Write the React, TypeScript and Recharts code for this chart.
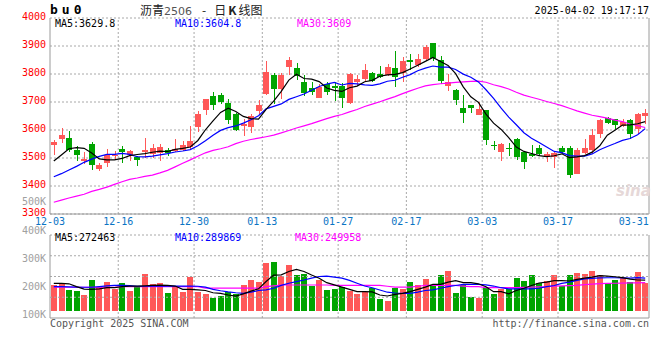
import {
  ComposedChart,
  Bar,
  Line,
  XAxis,
  YAxis,
  CartesianGrid,
  ReferenceLine,
} from "recharts";

// 交易日（12-03 ~ 04-01）
const dates = [
  "12-03", "12-04", "12-05", "12-06", "12-09", "12-10", "12-11", "12-12", "12-13",
  "12-16", "12-17", "12-18", "12-19", "12-20", "12-23", "12-24", "12-25", "12-26", "12-27",
  "12-30", "12-31", "01-02", "01-03", "01-06", "01-07", "01-08", "01-09", "01-10",
  "01-13", "01-14", "01-15", "01-16", "01-17", "01-20", "01-21", "01-22", "01-23", "01-24",
  "01-27", "02-05", "02-06", "02-07", "02-10", "02-11", "02-12", "02-13", "02-14",
  "02-17", "02-18", "02-19", "02-20", "02-21", "02-24", "02-25", "02-26", "02-27", "02-28",
  "03-03", "03-04", "03-05", "03-06", "03-07", "03-10", "03-11", "03-12", "03-13", "03-14",
  "03-17", "03-18", "03-19", "03-20", "03-21", "03-24", "03-25", "03-26", "03-27", "03-28",
  "03-31", "04-01",
];

const opens = [
  3545, 3568, 3571, 3527, 3489, 3549, 3460, 3482, 3506, 3531, 3510, 3502, 3521, 3516, 3519, 3528,
  3524, 3528, 3539, 3609, 3671, 3721, 3724, 3697, 3656, 3615, 3609, 3668, 3727, 3796, 3746, 3824,
  3822, 3772, 3749, 3715, 3766, 3757, 3757, 3697, 3772, 3782, 3804, 3800, 3796, 3822, 3802, 3850,
  3832, 3853, 3909, 3850, 3758, 3742, 3680, 3689, 3653, 3671, 3548, 3521, 3537, 3567, 3520, 3516,
  3534, 3504, 3504, 3534, 3536, 3444, 3518, 3528, 3587, 3643, 3641, 3613, 3637, 3605, 3649,
];
const closes = [
  3557, 3581, 3530, 3510, 3495, 3474, 3474, 3512, 3511, 3521, 3524, 3494, 3528, 3536, 3539, 3519,
  3531, 3546, 3561, 3656, 3710, 3689, 3699, 3635, 3599, 3620, 3649, 3691, 3808, 3746, 3796, 3850,
  3794, 3733, 3735, 3752, 3736, 3751, 3715, 3801, 3781, 3814, 3776, 3788, 3826, 3788, 3846, 3842,
  3853, 3897, 3856, 3775, 3772, 3706, 3661, 3679, 3675, 3563, 3544, 3549, 3534, 3504, 3486, 3507,
  3513, 3516, 3518, 3521, 3438, 3528, 3537, 3581, 3635, 3625, 3617, 3629, 3585, 3656, 3661,
];
const highs = [
  3566, 3607, 3595, 3542, 3521, 3557, 3482, 3531, 3524, 3542, 3528, 3506, 3571, 3550, 3549, 3537,
  3567, 3561, 3613, 3668, 3710, 3736, 3733, 3709, 3659, 3641, 3656, 3706, 3846, 3802, 3802, 3862,
  3840, 3796, 3771, 3766, 3772, 3772, 3768, 3804, 3796, 3834, 3808, 3828, 3834, 3882, 3862, 3872,
  3871, 3903, 3912, 3864, 3800, 3748, 3724, 3689, 3700, 3673, 3560, 3554, 3554, 3572, 3521, 3546,
  3546, 3521, 3523, 3542, 3542, 3534, 3569, 3605, 3638, 3647, 3641, 3638, 3641, 3659, 3675,
];
const lows = [
  3512, 3554, 3521, 3489, 3477, 3456, 3453, 3468, 3494, 3482, 3489, 3471, 3500, 3500, 3490, 3506,
  3521, 3525, 3533, 3593, 3653, 3671, 3692, 3623, 3597, 3578, 3589, 3656, 3724, 3692, 3710, 3796,
  3778, 3723, 3724, 3713, 3724, 3704, 3680, 3692, 3760, 3772, 3770, 3784, 3792, 3752, 3770, 3815,
  3824, 3847, 3847, 3766, 3739, 3689, 3625, 3661, 3653, 3545, 3528, 3489, 3506, 3494, 3462, 3504,
  3506, 3486, 3465, 3516, 3430, 3442, 3513, 3513, 3573, 3623, 3605, 3611, 3569, 3587, 3620,
];
const volumes = [
  229000, 238000, 185000, 176000, 140000, 274000, 214000, 256000, 194000, 247000,
  176000, 217000, 327000, 235000, 247000, 158000, 214000, 167000, 300000, 167000,
  149000, 113000, 131000, 167000, 149000, 229000, 274000, 256000, 425000, 434000,
  310000, 408000, 318000, 327000, 220000, 274000, 185000, 194000, 214000, 176000,
  149000, 170000, 200000, 104000, 87000, 205000, 194000, 256000, 229000, 283000,
  229000, 318000, 354000, 158000, 229000, 125000, 113000, 214000, 152000, 194000,
  194000, 292000, 265000, 318000, 250000, 265000, 318000, 220000, 318000, 336000,
  327000, 354000, 318000, 247000, 274000, 289000, 253000, 345000, 244000,
];

// 均线
const ma5 = [
  3489, 3511, 3533, 3537, 3534.6, 3518, 3496.6, 3493, 3493.2, 3498.4, 3508.4, 3512.4, 3515.6, 3520.6,
  3524.2, 3523.2, 3530.6, 3534.2, 3539.2, 3562.6, 3600.8, 3632.4, 3663, 3677.8, 3666.4, 3648.4,
  3640.4, 3638.8, 3673.4, 3702.8, 3738, 3778.2, 3798.8, 3783.8, 3781.6, 3772.8, 3750, 3741.4,
  3737.8, 3751, 3756.8, 3772.4, 3777.4, 3792, 3797, 3798.4, 3804.8, 3818, 3831, 3845.2, 3858.8,
  3844.6, 3830.6, 3801.2, 3754, 3718.6, 3698.6, 3656.8, 3624.4, 3602, 3573, 3538.8, 3523.4, 3516,
  3508.8, 3505.2, 3508, 3515, 3501.2, 3504.2, 3508.4, 3521, 3543.8, 3581.2, 3599, 3617.4, 3618.2,
  3622.4, 3629.8,
];
const ma10 = [
  3433, 3444, 3457, 3470, 3484.5, 3496, 3506, 3513, 3513, 3516.5, 3513.2, 3504.5, 3504.3, 3506.9,
  3511.3, 3515.8, 3521.5, 3524.9, 3529.9, 3543.4, 3562, 3581.5, 3598.6, 3608.5, 3614.5, 3624.6,
  3636.4, 3650.9, 3675.6, 3684.6, 3693.2, 3709.3, 3718.8, 3728.6, 3742.2, 3755.4, 3764.1, 3770.1,
  3760.8, 3766.3, 3764.8, 3761.2, 3759.4, 3764.9, 3774, 3777.6, 3788.6, 3797.7, 3811.5, 3821.1,
  3828.6, 3824.7, 3824.3, 3816.1, 3799.6, 3788.7, 3771.6, 3743.7, 3712.8, 3678, 3645.8, 3618.7,
  3590.1, 3570.2, 3555.4, 3539.1, 3523.4, 3519.2, 3508.6, 3506.5, 3506.8, 3514.5, 3529.4, 3541.2,
  3551.6, 3562.9, 3569.6, 3583.1, 3604.8,
];
const ma30 = [
  3342, 3349.5, 3357, 3364, 3370.6, 3380.7, 3388, 3396, 3405.7, 3415, 3423.6, 3428.6, 3434.4, 3438.7,
  3447, 3456, 3468.4, 3481, 3493.4, 3506, 3518.5, 3527.4, 3533, 3540.3, 3551.4, 3559.7, 3566, 3571,
  3576, 3581.5, 3589.5, 3598.4, 3607.2, 3614.7, 3622.7, 3631.9, 3640.7, 3648.6, 3655.4, 3664.8,
  3673.3, 3684, 3692.3, 3700.7, 3710.2, 3719.2, 3729.7, 3739.6, 3749.3, 3757.3, 3762.2, 3765.1,
  3767.5, 3769.9, 3771.9, 3773.9, 3774.8, 3770.5, 3761.7, 3755.1, 3746.4, 3734.9, 3724.6, 3717.1,
  3709.7, 3701.8, 3694.5, 3686.9, 3677.6, 3668.5, 3660.4, 3652.6, 3647.9, 3642.5, 3635.5, 3630.2,
  3621.5, 3615.3, 3609,
];
const volMa5 = [
  244000, 244000, 240000, 215000, 192000, 191000, 195000, 205000, 205000, 215000, 220000, 220000,
  222000, 225000, 228000, 225000, 220000, 190000, 190000, 185000, 180000, 160000, 155000, 140000,
  131000, 150000, 175000, 195000, 260000, 318000, 320000, 350000, 369000, 350000, 318000, 290000,
  250000, 230000, 210000, 190000, 170000, 170000, 168000, 140000, 131000, 145000, 155000, 170000,
  190000, 210000, 235000, 235000, 255000, 268000, 250000, 250000, 240000, 214000, 170000, 170000,
  150000, 180000, 200000, 225000, 247000, 255000, 268000, 268000, 265000, 280000, 290000, 300000,
  312000, 308000, 303000, 295000, 282000, 274000, 272463,
];
const volMa10 = [
  214000, 214000, 212000, 210000, 209000, 209000, 215000, 222000, 226000, 226000, 224000, 218000,
  218000, 220000, 220000, 220000, 220000, 220000, 220000, 218000, 210000, 190000, 178000, 168000,
  160000, 155000, 165000, 180000, 185000, 200000, 226000, 245000, 260000, 274000, 290000, 305000,
  309000, 300000, 290000, 270000, 245000, 220000, 205000, 185000, 165000, 158000, 155000, 155000,
  165000, 180000, 185000, 200000, 214000, 225000, 235000, 235000, 235000, 230000, 220000, 205000,
  195000, 194000, 194000, 195000, 200000, 214000, 225000, 244000, 255000, 270000, 283000, 288000,
  292000, 294000, 294000, 292000, 290000, 295000, 289869,
];
const volMa30 = [
  209000, 209000, 209000, 209000, 209000, 209000, 209000, 209000, 209000, 214000, 214000, 214000,
  214000, 214000, 214000, 214000, 214000, 214000, 214000, 214000, 202000, 202000, 202000, 202000,
  202000, 202000, 202000, 202000, 215000, 222000, 229000, 229000, 229000, 229000, 229000, 229000,
  229000, 226000, 226000, 226000, 226000, 226000, 226000, 226000, 218000, 211000, 211000, 211000,
  218000, 226000, 226000, 226000, 226000, 226000, 220000, 214000, 214000, 205000, 205000, 205000,
  205000, 205000, 208000, 210000, 212000, 214000, 218000, 221000, 224000, 226000, 232000, 237000,
  241000, 243000, 245000, 246000, 248000, 249000, 249958,
];

const priceTicks = [3300, 3400, 3500, 3600, 3700, 3800, 3900, 4000];
const volumeLabelTicks = [100000, 200000, 300000, 400000, 500000];
const labelDates = ["12-03", "12-16", "12-30", "01-13", "01-27", "02-17", "03-03", "03-17", "03-31"];
const gridDates = ["12-16", "12-30", "01-13", "01-27", "02-17", "03-03", "03-17"];

const priceLegend = [
  { text: "MA5:3629.8", color: "#000000", left: 55 },
  { text: "MA10:3604.8", color: "#0000FF", left: 175 },
  { text: "MA30:3609", color: "#FF00FF", left: 297 },
];
const volumeLegend = [
  { text: "MA5:272463", color: "#000000", left: 55 },
  { text: "MA10:289869", color: "#0000FF", left: 175 },
  { text: "MA30:249958", color: "#FF00FF", left: 295 },
];

const RED = "#FF5858";
const GREEN = "#00A400";
const GRID = "#A8A8A8";
const BORDER = "#9A9A9A";
const MONO = "'DejaVu Sans Mono', 'Liberation Mono', monospace";
const CJK = "'Noto Sans CJK SC', sans-serif";

const rows = dates.map((d, i) => ({
  date: d,
  x: i + 0.5,
  open: opens[i],
  close: closes[i],
  high: highs[i],
  low: lows[i],
  range: [lows[i], highs[i]],
  volume: volumes[i],
  ma5: ma5[i],
  ma10: ma10[i],
  ma30: ma30[i],
  volMa5: volMa5[i],
  volMa10: volMa10[i],
  volMa30: volMa30[i],
}));

const tickIndex = labelDates.map((d) => dates.indexOf(d));
const gridIndex = gridDates.map((d) => dates.indexOf(d));

// 蜡烛：bar 画的是 [low, high]，开收盘按比例放进去
function Candle(props: any) {
  const { x, y, width, height, payload } = props;
  if (x == null || y == null) return null;
  const { open, close, high, low } = payload;
  const color = close >= open ? RED : GREEN;
  const span = high - low || 1;
  const yOf = (v: number) => y + ((high - v) / span) * height;
  const left = Math.round(x);
  const w = Math.round(width);
  const wick = left + Math.floor(w / 2) + 0.5;
  const top = Math.round(yOf(Math.max(open, close)));
  const bottom = Math.round(yOf(Math.min(open, close)));
  return (
    <g shapeRendering="crispEdges">
      <line x1={wick} x2={wick} y1={Math.round(y)} y2={Math.round(y + height)} stroke={color} />
      <rect x={left} y={top} width={w} height={Math.max(bottom - top, 1)} fill={color} />
    </g>
  );
}

function VolumeBar(props: any) {
  const { x, y, width, height, payload } = props;
  if (x == null || y == null) return null;
  const color = payload.close >= payload.open ? RED : GREEN;
  const top = Math.round(y);
  return (
    <rect
      x={Math.round(x)}
      y={top}
      width={Math.round(width)}
      height={Math.max(Math.round(y + height) - top, 0)}
      fill={color}
      shapeRendering="crispEdges"
    />
  );
}

const monoTick = (fill: string, dy = 0) => ({ fill, fontSize: 10, fontFamily: MONO, dy });

export default function App() {
  return (
    <div
      style={{
        position: "absolute",
        left: 0,
        top: 0,
        width: 660,
        height: 360,
        background: "#fff",
        fontFamily: MONO,
        overflow: "hidden",
      }}
    >
      {/* K 线 */}
      <div style={{ position: "absolute", left: 0, top: 0 }}>
        <ComposedChart
          width={660}
          height={234}
          data={rows}
          margin={{ top: 18, right: 11, bottom: 0, left: 0 }}
        >
          <CartesianGrid vertical={false} stroke={GRID} strokeDasharray="2 2" />
          <XAxis
            type="number"
            dataKey="x"
            domain={[0, dates.length]}
            allowDataOverflow
            ticks={tickIndex}
            interval={0}
            tickFormatter={(v: number) => dates[v] ?? ""}
            tick={monoTick("#0A74C4")}
            tickLine={false}
            tickSize={0}
            tickMargin={4}
            axisLine={{ stroke: BORDER }}
            height={20}
          />
          <YAxis
            domain={[3300, 4000]}
            allowDataOverflow
            ticks={priceTicks}
            interval={0}
            width={50}
            tick={monoTick("#FF0000", -2)}
            tickLine={false}
            tickSize={0}
            tickMargin={4}
            axisLine={{ stroke: BORDER }}
          />
          {gridIndex.map((i) => (
            <ReferenceLine key={i} x={i} stroke={GRID} strokeDasharray="2 2" />
          ))}
          <ReferenceLine x={dates.length} stroke={BORDER} />
          <Bar dataKey="range" barSize={6} shape={<Candle />} isAnimationActive={false} />
          <Line type="linear" dataKey="ma30" stroke="#FF00FF" strokeWidth={1.2} dot={false} isAnimationActive={false} />
          <Line type="linear" dataKey="ma10" stroke="#0000FF" strokeWidth={1.2} dot={false} isAnimationActive={false} />
          <Line type="linear" dataKey="ma5" stroke="#000000" strokeWidth={1.2} dot={false} isAnimationActive={false} />
        </ComposedChart>
      </div>

      {/* 成交量 */}
      <div style={{ position: "absolute", left: 0, top: 190 }}>
        <ComposedChart
          width={660}
          height={140}
          data={rows}
          margin={{ top: 45, right: 11, bottom: 11, left: 0 }}
        >
          <XAxis
            type="number"
            dataKey="x"
            domain={[0, dates.length]}
            allowDataOverflow
            tick={false}
            tickLine={false}
            axisLine={{ stroke: BORDER }}
            height={1}
          />
          <YAxis
            yAxisId="lbl"
            domain={[89200, 382800]}
            allowDataOverflow
            ticks={volumeLabelTicks}
            interval={0}
            tickFormatter={(v: number) => `${v / 1000}K`}
            width={50}
            tick={monoTick("#A0A0A0")}
            tickLine={false}
            tickSize={0}
            tickMargin={4}
            axisLine={{ stroke: BORDER }}
          />
          <YAxis yAxisId="vol" hide width={0} domain={[-65000, 675000]} allowDataOverflow />
          <YAxis yAxisId="grid" hide width={0} domain={[0, 4]} allowDataOverflow />
          {[1, 2, 3, 4].map((q) => (
            <ReferenceLine key={q} yAxisId="grid" y={q} stroke={GRID} strokeDasharray="2 2" />
          ))}
          {gridIndex.map((i) => (
            <ReferenceLine key={i} yAxisId="grid" x={i} stroke={GRID} strokeDasharray="2 2" />
          ))}
          <ReferenceLine yAxisId="grid" x={dates.length} stroke={BORDER} />
          <Bar yAxisId="vol" dataKey="volume" barSize={6} shape={<VolumeBar />} isAnimationActive={false} />
          <Line yAxisId="vol" type="linear" dataKey="volMa30" stroke="#FF00FF" strokeWidth={1.2} dot={false} isAnimationActive={false} />
          <Line yAxisId="vol" type="linear" dataKey="volMa10" stroke="#0000FF" strokeWidth={1.2} dot={false} isAnimationActive={false} />
          <Line yAxisId="vol" type="linear" dataKey="volMa5" stroke="#000000" strokeWidth={1.2} dot={false} isAnimationActive={false} />
        </ComposedChart>
      </div>

      {/* 标题 */}
      <div style={{ position: "absolute", left: 50, top: 2, fontSize: 13, fontWeight: "bold", letterSpacing: 4 }}>
        bu0
      </div>
      <div
        style={{
          position: "absolute",
          left: 140,
          top: 1,
          fontSize: 12,
          fontFamily: CJK,
          color: "#222",
          whiteSpace: "nowrap",
        }}
      >
        沥青
        <span style={{ color: "#555", fontFamily: "'DejaVu Sans', sans-serif", fontSize: 11 }}>2506</span>
        <span style={{ margin: "0 8px 0 10px" }}>-</span>
        日<span style={{ fontWeight: "bold", margin: "0 2px" }}>K</span>线图
      </div>
      <div style={{ position: "absolute", right: 11, top: 5, fontSize: 10, color: "#000" }}>
        2025-04-02 19:17:17
      </div>

      {priceLegend.map((l) => (
        <div key={l.text} style={{ position: "absolute", left: l.left, top: 18, fontSize: 10, lineHeight: "12px", color: l.color }}>
          {l.text}
        </div>
      ))}
      {volumeLegend.map((l) => (
        <div key={l.text} style={{ position: "absolute", left: l.left, top: 232, fontSize: 10, lineHeight: "12px", color: l.color }}>
          {l.text}
        </div>
      ))}

      <div style={{ position: "absolute", left: 616, top: 182, fontSize: 15, fontStyle: "italic", fontWeight: "bold", color: "#E6D8D8", fontFamily: "'DejaVu Sans', sans-serif" }}>
        sina
      </div>

      <div style={{ position: "absolute", left: 50, top: 318, fontSize: 10, lineHeight: "12px", color: "#555" }}>
        Copyright 2025 SINA.COM
      </div>
      <div style={{ position: "absolute", right: 11, top: 318, fontSize: 10, lineHeight: "12px", color: "#555" }}>
        http://finance.sina.com.cn
      </div>
    </div>
  );
}
